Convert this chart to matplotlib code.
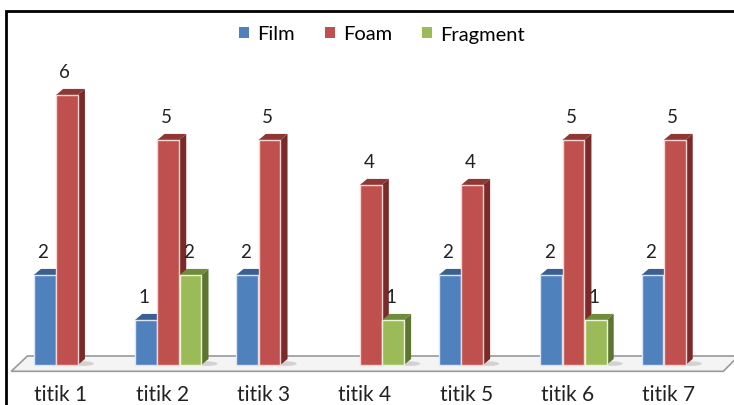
import matplotlib.pyplot as plt
from matplotlib.patches import Patch, Rectangle, Ellipse

# data
categories = ['titik 1', 'titik 2', 'titik 3', 'titik 4', 'titik 5', 'titik 6', 'titik 7']
film = [2, 1, 2, 0, 2, 2, 2]
foam = [6, 5, 5, 4, 4, 5, 5]
fragment = [0, 2, 0, 1, 0, 1, 0]
series_names = ['Film', 'Foam', 'Fragment']

plt.rcParams['font.family'] = ['Lato', 'DejaVu Sans']

# front / side / top / outline colours per series
faces = {
    'Film': ('#4f81bd', '#2c4a72', '#3b6090', '#dce6f2'),
    'Foam': ('#c0504d', '#7a2b29', '#8e3734', '#f6d5d4'),
    'Fragment': ('#9bbb59', '#5c7530', '#6f8c3c', '#eef4d8'),
}

fig = plt.figure(figsize=(7.34, 4.06), dpi=100)
ax = fig.add_axes([0, 0, 1, 1])
ax.set_xlim(-0.661, 6.585)
ax.set_ylim(-0.889, 8.133)
ax.axis('off')

n = len(categories)
w = 0.215
offsets = [-0.22, 0.0, 0.22]
dx, dy = 0.07, 0.135

# floor
ax.fill([-0.55, n - 0.52, n - 0.37, -0.39], [-0.14, -0.14, 0.2, 0.2],
        facecolor='#f4f4f4', edgecolor='#9a9a9a', lw=1.2, zorder=1)

for i, (name, vals) in enumerate(zip(series_names, [film, foam, fragment])):
    front, side, top, edge = faces[name]
    for j, v in enumerate(vals):
        if v == 0:
            continue
        xc = j + offsets[i]
        x0 = xc - w / 2
        z = 3 + j * 4 + i
        # soft shadow on floor
        ax.add_patch(Ellipse((x0 + w + 0.06, 0.03), 0.2, 0.1, color='#c4c4c4',
                             alpha=0.7, lw=0, zorder=2))
        ax.fill([x0 + w, x0 + w + dx, x0 + w + dx, x0 + w],
                [0, dy, v + dy, v], color=side, lw=0, zorder=z)
        ax.fill([x0, x0 + w, x0 + w + dx, x0 + dx],
                [v, v, v + dy, v + dy], color=top, lw=0, zorder=z)
        ax.bar(xc, v, w, color=front, edgecolor=edge, lw=1.0, zorder=z + 0.5)
        ax.text(xc - 0.02, v + dy + 0.2, str(v), ha='center', va='bottom',
                fontsize=13.5, color='#222222', zorder=40)

for j, cat in enumerate(categories):
    ax.text(j - 0.06, -0.42, cat, ha='center', va='top', fontsize=15,
            color='#222222')

handles = [Patch(facecolor=faces[s][0], label=s) for s in series_names]
fig.legend(handles=handles, loc='center', bbox_to_anchor=(0.52, 1 - 35 / 406),
           ncol=3, frameon=False, fontsize=14.5, handlelength=0.5,
           handleheight=0.5, handletextpad=0.4, columnspacing=1.5)

# outer chart frame (runs off the right and bottom edges)
fig.patches.append(Rectangle((6 / 734, -0.1), 1.0, 1 - 12 / 406 + 0.1,
                             transform=fig.transFigure, fill=False,
                             edgecolor='black', lw=2))

fig.savefig('out.png', dpi=100)
